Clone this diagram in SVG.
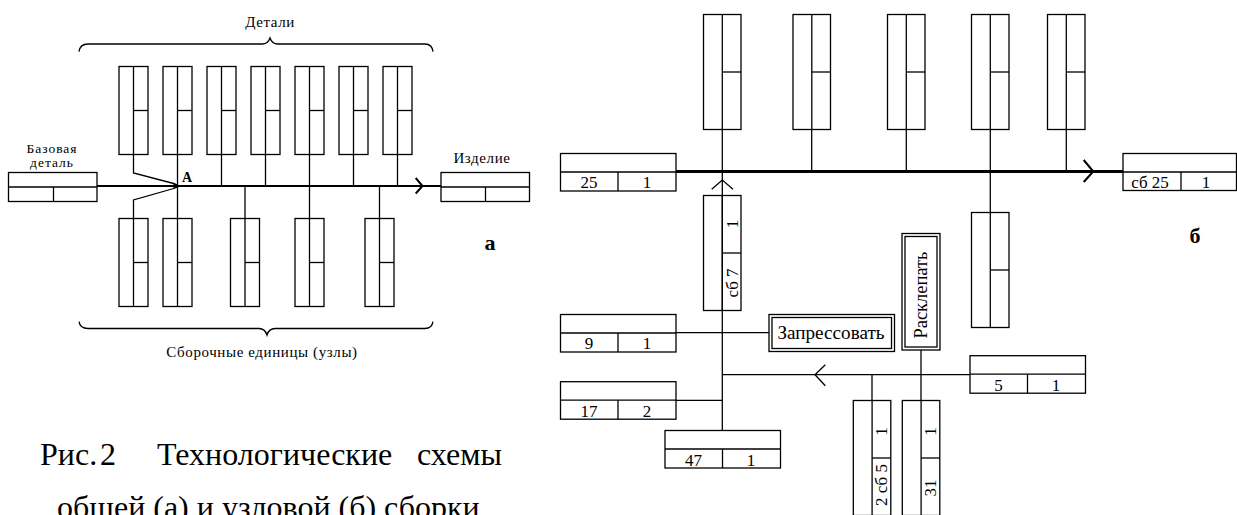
<svg xmlns="http://www.w3.org/2000/svg" width="1237" height="515" viewBox="0 0 1237 515">
<style>
.b{fill:none;stroke:#000;stroke-width:1.3}
.l{fill:none;stroke:#000;stroke-width:1.3}
.m{fill:none;stroke:#000;stroke-width:2}
.M{fill:none;stroke:#000;stroke-width:3}
.t{font-family:"Liberation Serif",serif;fill:#000}
.s{font-size:15px;letter-spacing:0.6px}
.n{font-size:17px;text-anchor:middle}
.c{font-size:32px}
</style>
<rect width="1237" height="515" fill="#fff"/>
<defs>
<g id="vb"><rect class="b" x="0" y="0" width="29" height="88"/><line class="l" x1="14.5" y1="0" x2="14.5" y2="88"/><line class="l" x1="14.5" y1="44" x2="29" y2="44"/></g>
<g id="vB"><rect class="b" x="0" y="0" width="37.5" height="115"/><line class="l" x1="18.8" y1="0" x2="18.8" y2="115"/><line class="l" x1="18.8" y1="57.5" x2="37.5" y2="57.5"/></g>
<g id="hB"><rect class="b" x="0" y="0" width="115.5" height="37.5"/><line class="l" x1="0" y1="18.5" x2="115.5" y2="18.5"/><line class="l" x1="57.5" y1="18.5" x2="57.5" y2="37.5"/></g>
</defs>

<!-- ===== Diagram a ===== -->
<g id="a-connectors">
<line class="m" x1="97" y1="186" x2="441" y2="186"/>
<polyline class="m" points="415.7,178 422.5,186 415.7,193.5"/>
<polyline class="l" points="133.5,154.5 133.5,173 175.5,184"/>
<polyline class="l" points="175.5,188 133.5,200 133.5,218.5"/>
<line class="l" x1="177.5" y1="154.5" x2="177.5" y2="218.5"/>
<line class="l" x1="221.5" y1="154.5" x2="221.5" y2="186"/>
<line class="l" x1="265.5" y1="154.5" x2="265.5" y2="186"/>
<line class="l" x1="309.5" y1="154.5" x2="309.5" y2="218.5"/>
<line class="l" x1="353.5" y1="154.5" x2="353.5" y2="186"/>
<line class="l" x1="397.5" y1="154.5" x2="397.5" y2="186"/>
<line class="l" x1="245" y1="186" x2="245" y2="218.5"/>
<line class="l" x1="379.5" y1="186" x2="379.5" y2="218.5"/>
<rect x="173.5" y="184" width="4" height="4" fill="#000"/>
</g>
<g id="a-base">
<rect class="b" x="8.5" y="172.5" width="88.5" height="29"/>
<line class="l" x1="8.5" y1="187" x2="97" y2="187"/>
<line class="l" x1="53.5" y1="187" x2="53.5" y2="201.5"/>
<text class="t" x="52" y="152.5" font-size="13.5" letter-spacing="1" text-anchor="middle">Базовая</text>
<text class="t" x="52" y="167" font-size="13.5" letter-spacing="1" text-anchor="middle">деталь</text>
</g>
<g id="a-product">
<rect class="b" x="441" y="172.5" width="88.5" height="29"/>
<line class="l" x1="441" y1="187" x2="529.5" y2="187"/>
<line class="l" x1="485.5" y1="187" x2="485.5" y2="201.5"/>
<text class="t s" x="482" y="163" text-anchor="middle">Изделие</text>
</g>
<g id="a-parts">
<use href="#vb" x="119" y="66.5"/><use href="#vb" x="163" y="66.5"/><use href="#vb" x="207" y="66.5"/><use href="#vb" x="251" y="66.5"/><use href="#vb" x="295" y="66.5"/><use href="#vb" x="339" y="66.5"/><use href="#vb" x="383" y="66.5"/>
</g>
<g id="a-units">
<use href="#vb" x="119" y="218.5"/><use href="#vb" x="163" y="218.5"/><use href="#vb" x="230.5" y="218.5"/><use href="#vb" x="295" y="218.5"/><use href="#vb" x="365" y="218.5"/>
</g>
<g id="a-labels">
<path class="l" d="M79,51.7 Q80,44 88,44 L262,44 Q268,44 270,38 Q272,44 278,44 L425,44 Q432,44 433,51.7"/>
<text class="t s" x="270" y="27" text-anchor="middle">Детали</text>
<path class="l" d="M79,321.7 Q80,328.5 88,328.5 L259,328.5 Q265,328.5 267,335 Q269,328.5 275,328.5 L425,328.5 Q432,328.5 433,321.7"/>
<text class="t s" x="262" y="357" text-anchor="middle">Сборочные единицы (узлы)</text>
<text class="t" x="187" y="181.7" font-size="14" font-weight="bold" text-anchor="middle">A</text>
<text class="t" x="490" y="250" font-size="22" font-weight="bold" text-anchor="middle">а</text>
</g>

<!-- ===== Diagram b ===== -->
<g id="b-connectors">
<line class="M" x1="676" y1="171.5" x2="1123" y2="171.5"/>
<polyline class="m" points="1083.7,160 1093.3,171.5 1083.7,182"/>
<line class="l" x1="722.3" y1="129.5" x2="722.3" y2="430.5"/>
<line class="l" x1="811.7" y1="129.5" x2="811.7" y2="171.5"/>
<line class="l" x1="906.3" y1="129.5" x2="906.3" y2="171.5"/>
<line class="l" x1="990.3" y1="129.5" x2="990.3" y2="212.5"/>
<line class="l" x1="1066.3" y1="129.5" x2="1066.3" y2="171.5"/>
<polyline class="l" points="711.7,189.3 722.3,180 733,189.3"/>
<line class="l" x1="676" y1="332.7" x2="769" y2="332.7"/>
<line class="l" x1="676" y1="400.3" x2="722.3" y2="400.3"/>
<line class="l" x1="722.3" y1="374.7" x2="970" y2="374.7"/>
<polyline class="l" points="825.3,364.7 815,374.7 825.3,385.7"/>
<line class="l" x1="921" y1="350" x2="921" y2="400.5"/>
<line class="l" x1="872" y1="374.7" x2="872" y2="400.5"/>
</g>
<g id="b-top">
<use href="#vB" x="703.5" y="14.5"/><use href="#vB" x="793" y="14.5"/><use href="#vB" x="887.5" y="14.5"/><use href="#vB" x="971.5" y="14.5"/><use href="#vB" x="1047.5" y="14.5"/>
</g>
<g id="b-lower"><use href="#vB" x="971.5" y="212.5"/></g>
<g id="b-25">
<use href="#hB" x="560.5" y="153.5"/>
<text class="t n" x="589" y="188.3">25</text><text class="t n" x="647" y="188.3">1</text>
</g>
<g id="b-sb25">
<rect class="b" x="1123" y="153.5" width="113.5" height="37"/>
<line class="l" x1="1123" y1="172" x2="1236.5" y2="172"/>
<line class="l" x1="1181" y1="172" x2="1181" y2="190.5"/>
<text class="t n" x="1150" y="188.3">сб 25</text><text class="t n" x="1206" y="188.3">1</text>
</g>
<g id="b-sb7">
<use href="#vB" x="703.5" y="195.5"/>
<text class="t n" transform="translate(732,224) rotate(-90)" dominant-baseline="central">1</text>
<text class="t n" transform="translate(732,283) rotate(-90)" dominant-baseline="central">сб 7</text>
</g>
<g id="b-9">
<use href="#hB" x="560.5" y="314.5"/>
<text class="t n" x="589" y="349">9</text><text class="t n" x="647" y="349">1</text>
</g>
<g id="b-17">
<use href="#hB" x="560.5" y="381.7"/>
<text class="t n" x="589" y="416.7">17</text><text class="t n" x="647" y="416.7">2</text>
</g>
<g id="b-47">
<use href="#hB" x="665" y="430.5"/>
<text class="t n" x="693.5" y="465.7">47</text><text class="t n" x="751" y="465.7">1</text>
</g>
<g id="b-5">
<use href="#hB" x="970" y="355.7"/>
<text class="t n" x="998.5" y="391">5</text><text class="t n" x="1056" y="391">1</text>
</g>
<g id="b-2sb5">
<use href="#vB" x="853.3" y="400.5"/>
<text class="t n" transform="translate(881.5,431.5) rotate(-90)" dominant-baseline="central">1</text>
<text class="t n" transform="translate(881.5,485) rotate(-90)" dominant-baseline="central">2 сб 5</text>
</g>
<g id="b-31">
<use href="#vB" x="902.3" y="400.5"/>
<text class="t n" transform="translate(930.5,431.5) rotate(-90)" dominant-baseline="central">1</text>
<text class="t n" transform="translate(930.5,488) rotate(-90)" dominant-baseline="central">31</text>
</g>
<g id="b-press">
<rect class="b" x="769" y="314.5" width="125.5" height="37"/>
<rect class="b" x="772" y="317.5" width="119.5" height="31"/>
<text class="t" x="831" y="338.5" font-size="19" text-anchor="middle" textLength="107" lengthAdjust="spacingAndGlyphs">Запрессовать</text>
</g>
<g id="b-rivet">
<rect class="b" x="902" y="233.5" width="38" height="116.5"/>
<rect class="b" x="905" y="236.5" width="32" height="110.5"/>
<text class="t" transform="translate(926.5,295) rotate(-90)" font-size="19" text-anchor="middle" textLength="87" lengthAdjust="spacingAndGlyphs">Расклепать</text>
</g>
<text class="t" x="1195" y="243" font-size="22" font-weight="bold" text-anchor="middle">б</text>

<!-- caption -->
<g id="caption">
<text class="t c" x="40" y="465">Рис.</text>
<text class="t c" x="100" y="465">2</text>
<text class="t c" x="157" y="465">Технологические</text>
<text class="t c" x="417" y="465">схемы</text>
<text class="t c" x="57" y="518">общей (а) и узловой (б) сборки</text>
</g>
</svg>
